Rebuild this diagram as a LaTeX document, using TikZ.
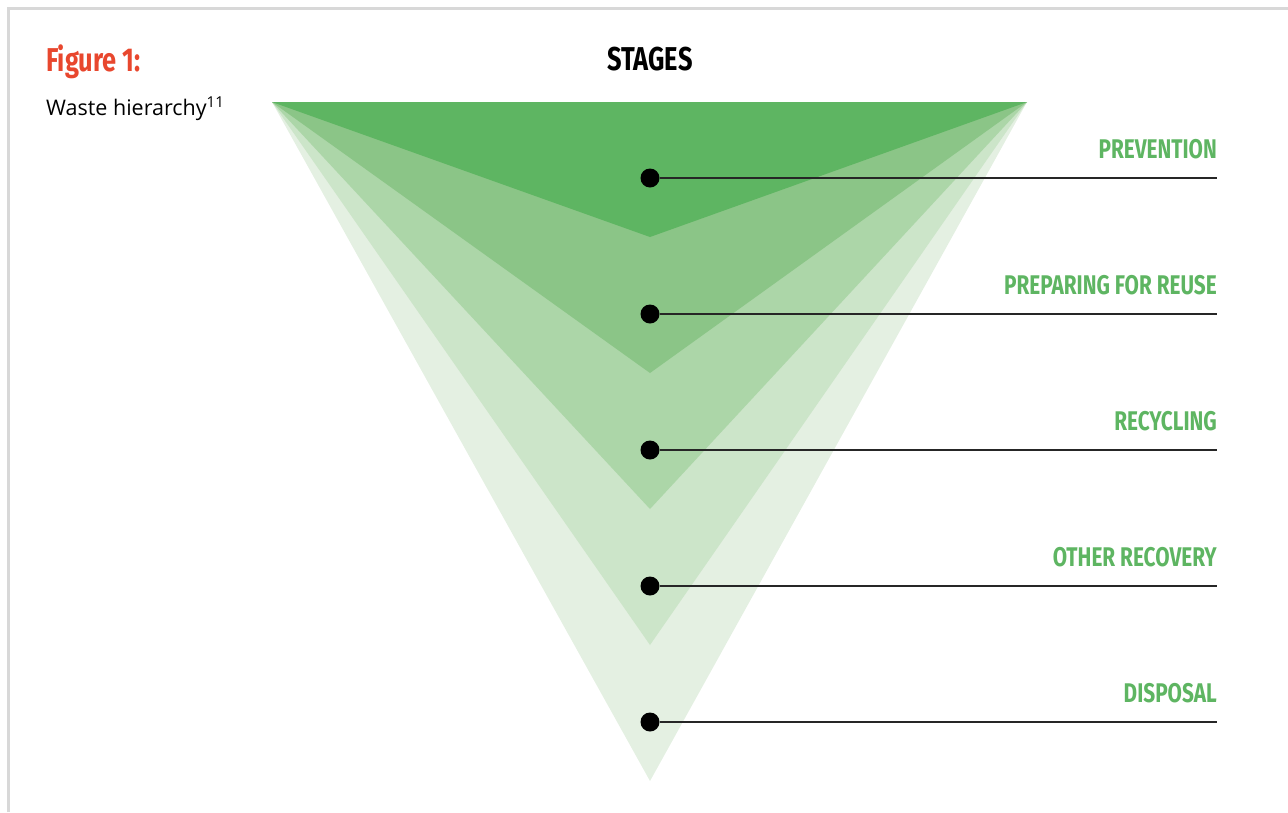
\documentclass[tikz,border=0pt]{standalone}
\usepackage{fontspec}
\setmainfont{Open Sans}
\newfontfamily\headfont[FakeStretch=0.77]{Fira Sans}

\definecolor{figred}{HTML}{E8472E}
\definecolor{framegray}{HTML}{D8D8D8}
\definecolor{labelgreen}{HTML}{5EB562}
% one shade per stage, darkest first
\definecolor{stage1}{HTML}{5EB562}
\definecolor{stage2}{HTML}{8BC587}
\definecolor{stage3}{HTML}{ACD6A8}
\definecolor{stage4}{HTML}{CCE5C9}
\definecolor{stage5}{HTML}{E4F0E2}

\tikzset{
  headline/.style={inner sep=0pt, font={\headfont\bfseries\fontsize{33}{35}\selectfont}},
  stagelabel/.style={anchor=base east, inner sep=0pt, text=labelgreen,
    font={\headfont\bfseries\fontsize{27}{30}\selectfont}},
  stagedot/.style={circle, fill=black, inner sep=0pt, minimum size=19pt},
  leader/.style={line width=1.3pt, draw=black!85},
}

\begin{document}
\begin{tikzpicture}[x=1pt, y=-1pt]
  \useasboundingbox (0,0) rectangle (1288,812);

  % open frame, top and left only
  \draw[framegray, line width=3pt] (8.5,812) -- (8.5,8.5) -- (1288,8.5);

  % heading
  \node[headline, anchor=base west, text=figred] (fig) at (46,71) {Figure 1:};
  \node[anchor=base west, inner sep=0pt, font=\fontsize{21.5}{24}\selectfont]
    (caption) at (46,115) {Waste hierarchy\textsuperscript{11}};
  \node[headline, anchor=base] (stages) at (650,70) {STAGES};

  % nested funnel, widest and palest at the back
  \coordinate (topleft) at (272,102);
  \coordinate (topright) at (1027,102);
  \foreach \lvl in {5,4,3,2,1} {
    \pgfmathsetmacro{\tipy}{101+136*\lvl}
    \fill[stage\lvl] (topleft) -- (topright) -- (650,\tipy) -- cycle;
  }

  % dots, leaders and names of the stages
  \foreach \lvl/\name in {1/PREVENTION, 2/PREPARING FOR REUSE, 3/RECYCLING,
                          4/OTHER RECOVERY, 5/DISPOSAL} {
    \pgfmathsetmacro{\doty}{42+136*\lvl}
    \node[stagedot] (dot\lvl) at (650,\doty) {};
    \coordinate (end\lvl) at (1217,\doty);
    \draw[leader] (dot\lvl) -- (end\lvl);
    \node[stagelabel] (label\lvl) at (1217,\doty-19.5) {\name};
  }

\end{tikzpicture}
\end{document}
